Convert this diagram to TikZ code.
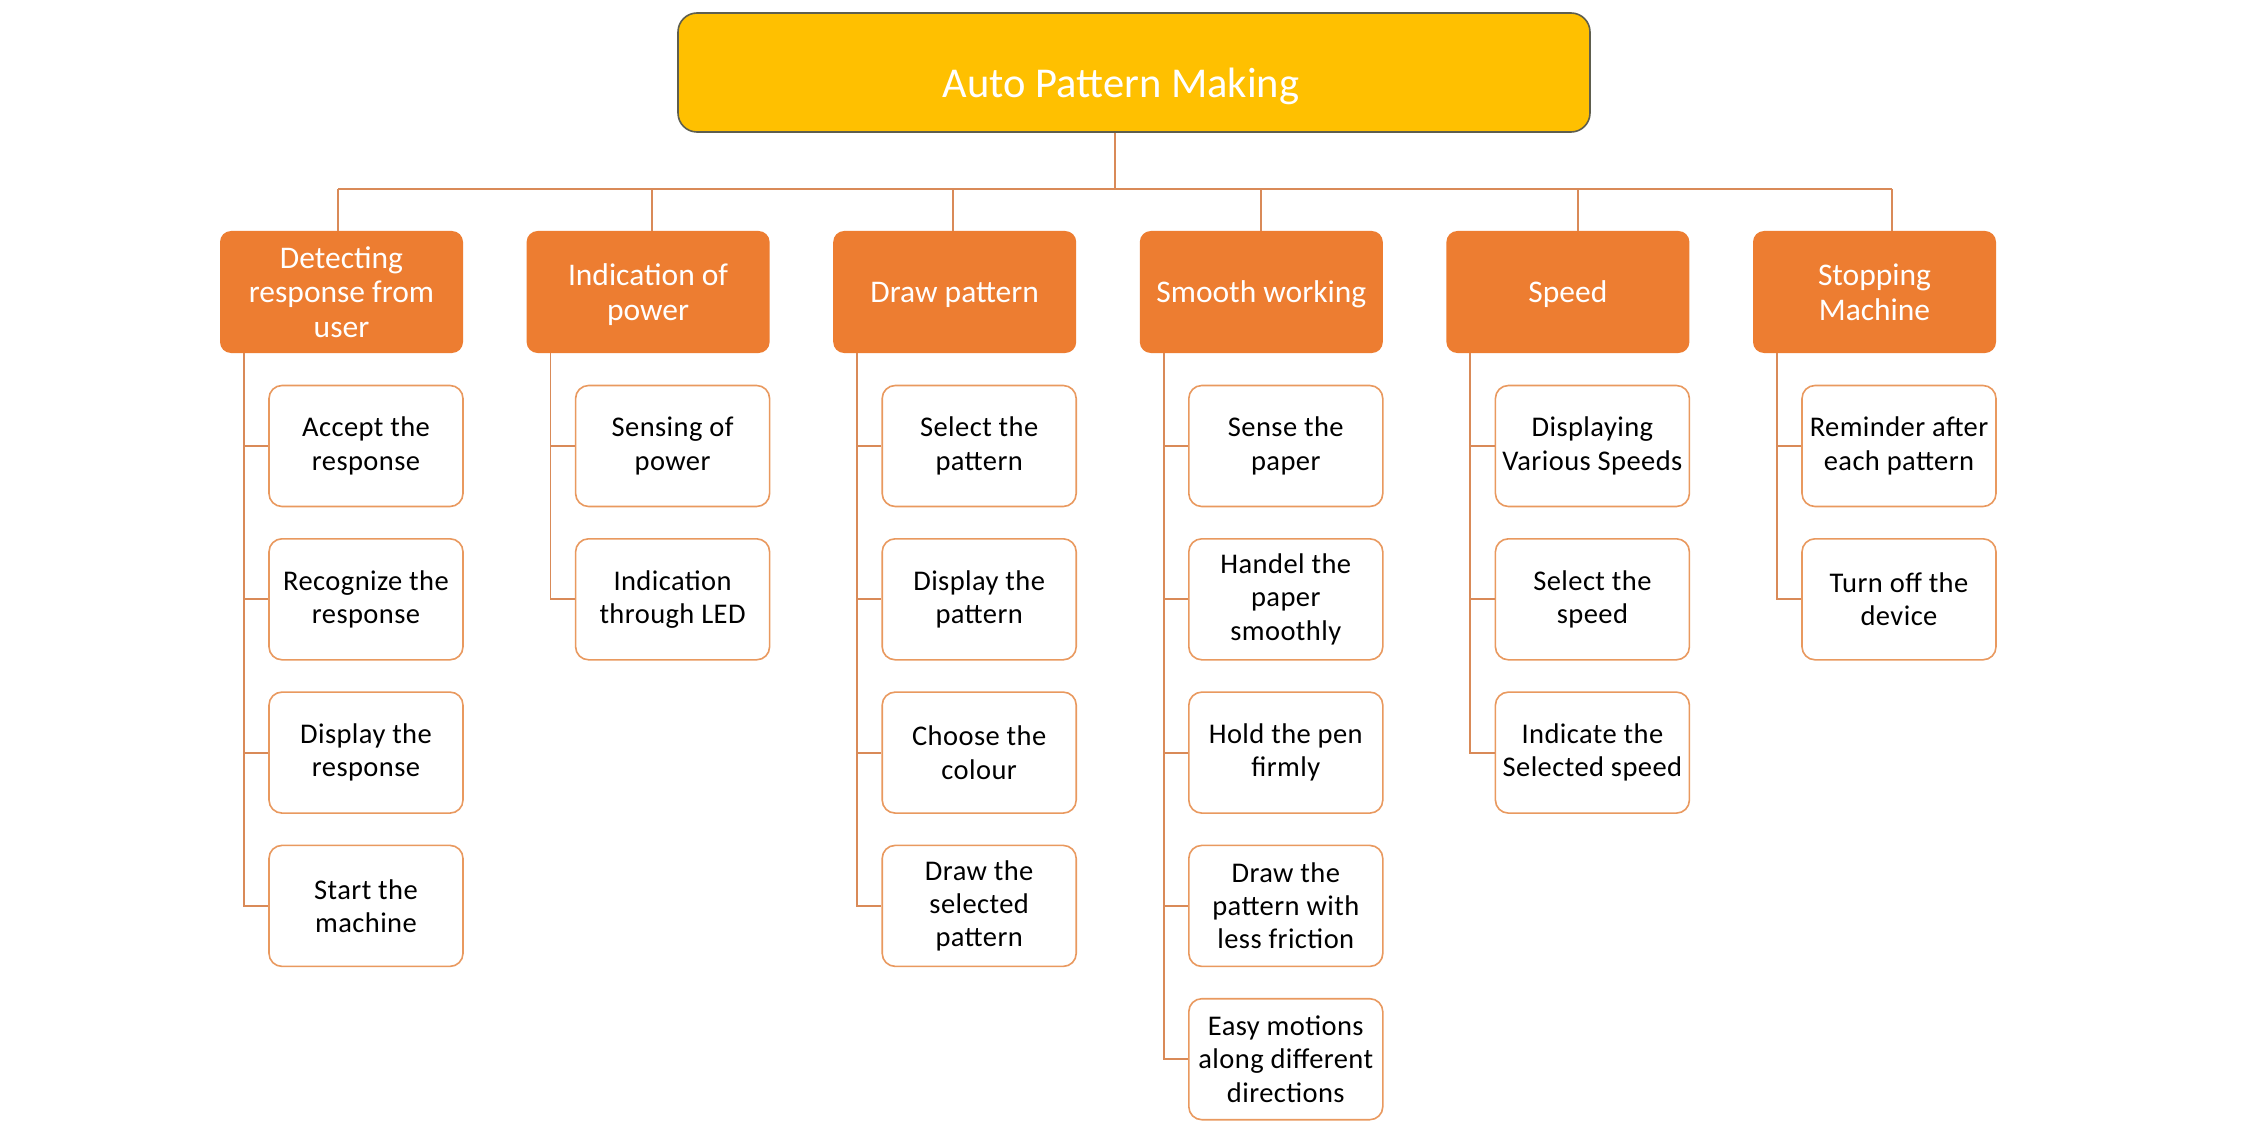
\documentclass[tikz,border=0pt]{standalone}
\usepackage{fontspec}
\setmainfont{Carlito}
\newfontfamily\leaffont[LetterSpace=1.5]{Carlito}
\definecolor{gold}{HTML}{FFC000}
\definecolor{accent}{HTML}{ED7D31}
\definecolor{wire}{HTML}{D98A58}
\definecolor{kidline}{HTML}{E9995F}
\definecolor{rim}{HTML}{5E5E4E}

\tikzset{
  rootbox/.style={draw=rim, line width=1.6pt, fill=gold, rounded corners=19pt,
    minimum width=912pt, minimum height=119pt, inner sep=0pt},
  catbox/.style={fill=accent, rounded corners=11pt, minimum width=243pt,
    minimum height=122pt, inner sep=0pt, align=center, text=white,
    text depth=-3pt, font=\fontsize{31.5}{34.7}\selectfont},
  kidbox/.style={draw=kidline, line width=1.6pt, fill=white, rounded corners=13pt,
    minimum width=194pt, minimum height=121pt, inner sep=0pt, align=center,
    text=black, font=\leaffont\fontsize{28.5}{33.3}\selectfont},
  wireline/.style={draw=wire, line width=1.8pt}
}

\begin{document}
\begin{tikzpicture}[x=1pt, y=-1pt]
  \useasboundingbox (0,0) rectangle (2268,1134);
  \fill[white] (0,0) rectangle (2268,1134);

  % root
  \node[rootbox] (root) at (1134,72.5) {};
  \node[text=white, font=\fontsize{42.5}{47}\selectfont] (rootlabel) at (1121,86) {Auto Pattern Making};

  % branch categories (left edges 220 + 306.6 i)
  \node[catbox] (c0) at (341.5,292) {Detecting\\response from\\user};
  \node[catbox] (c1) at (648.1,292) {Indication of\\power};
  \node[catbox] (c2) at (954.7,292) {Draw pattern};
  \node[catbox] (c3) at (1261.3,292) {Smooth working};
  \node[catbox] (c4) at (1567.9,292) {Speed};
  \node[catbox] (c5) at (1874.5,292) {Stopping\\Machine};

  % bus coordinates
  \coordinate (hub) at (1115,189);
  \coordinate (t0) at (338,189);
  \coordinate (t1) at (652,189);
  \coordinate (t2) at (953,189);
  \coordinate (t3) at (1261,189);
  \coordinate (t4) at (1578,189);
  \coordinate (t5) at (1892,189);

  \draw[wireline] (root.south -| hub) -- (hub);
  \draw[wireline] (t0) -- (t5);
  \foreach \k in {0,...,5} {
    \draw[wireline] (t\k) -- (t\k |- c\k.north);
  }

  % leaf tasks
  \node[kidbox] (c0-1) at (366,446) {Accept the\\response};
  \node[kidbox] (c0-2) at (366,599.3) {Recognize the\\response};
  \node[kidbox] (c0-3) at (366,752.6) {Display the\\response};
  \node[kidbox] (c0-4) at (366,905.9) {Start the\\machine};

  \node[kidbox] (c1-1) at (672.6,446) {Sensing of\\power};
  \node[kidbox] (c1-2) at (672.6,599.3) {Indication\\through LED};

  \node[kidbox] (c2-1) at (979.2,446) {Select the\\pattern};
  \node[kidbox] (c2-2) at (979.2,599.3) {Display the\\pattern};
  \node[kidbox] (c2-3) at (979.2,752.6) {Choose the\\colour};
  \node[kidbox] (c2-4) at (979.2,905.9) {Draw the\\selected\\pattern};

  \node[kidbox] (c3-1) at (1285.8,446) {Sense the\\paper};
  \node[kidbox] (c3-2) at (1285.8,599.3) {Handel the\\paper\\smoothly};
  \node[kidbox] (c3-3) at (1285.8,752.6) {Hold the pen\\firmly};
  \node[kidbox] (c3-4) at (1285.8,905.9) {Draw the\\pattern with\\less friction};
  \node[kidbox] (c3-5) at (1285.8,1059.2) {Easy motions\\along different\\directions};

  \node[kidbox] (c4-1) at (1592.4,446) {Displaying\\Various Speeds};
  \node[kidbox] (c4-2) at (1592.4,599.3) {Select the\\speed};
  \node[kidbox] (c4-3) at (1592.4,752.6) {Indicate the\\Selected speed};

  \node[kidbox] (c5-1) at (1899,446) {Reminder after\\each pattern};
  \node[kidbox] (c5-2) at (1899,599.3) {Turn off the\\device};

  % elbow connectors from each category to its tasks
  \foreach \c/\n in {0/4,1/2,2/4,3/5,4/3,5/2} {
    \foreach \j in {1,...,\n} {
      \draw[wireline] ([xshift=24pt]c\c.south west) |- (c\c-\j.west);
    }
  }
\end{tikzpicture}
\end{document}
